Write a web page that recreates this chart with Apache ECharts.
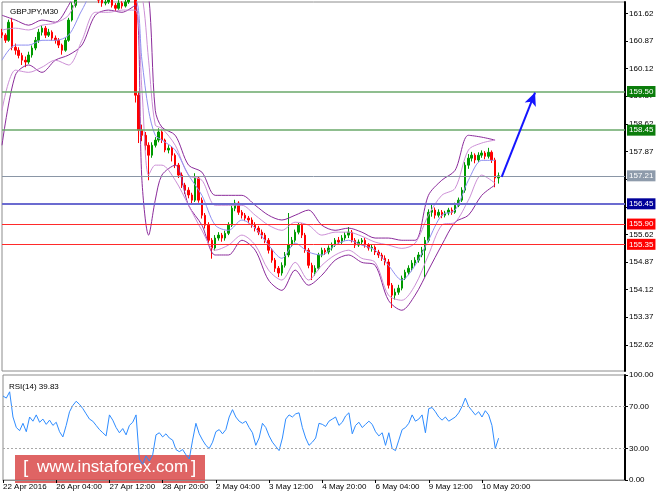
<!DOCTYPE html>
<html><head><meta charset="utf-8">
<script src="https://cdn.jsdelivr.net/npm/echarts@6/dist/echarts.min.js"></script>
<style>html,body{margin:0;padding:0;background:#fff}#c{width:664px;height:498px}</style>
</head><body><div id="c"></div>
<script>
// ---- data ----
const symbolTitle = 'GBPJPY,M30';
const rsiTitle = 'RSI(14) 39.83';
const nCats = 188;           // 2-hour slots across the visible window
const tickEvery = 16;
const timeLabels = ['22 Apr 2016','26 Apr 04:00','27 Apr 12:00','28 Apr 20:00','2 May 04:00','3 May 12:00','4 May 20:00','6 May 04:00','9 May 12:00','10 May 20:00'];
const priceTicks = [161.62,160.87,160.12,159.37,158.62,157.87,157.12,156.37,155.62,154.87,154.12,153.37,152.62];
const rsiTicks = [0,30,70,100];
const rsiLevels = [70,30];
// [open, close, low, high]
const ohlc = [
[161.10,161.03,160.95,161.20],[161.03,160.89,160.82,161.08],[160.89,161.38,160.85,161.45],[161.38,160.70,160.62,161.50],
[160.70,160.62,160.50,160.80],[160.62,160.48,160.40,160.70],[160.48,160.35,160.22,160.55],[160.35,160.30,160.16,160.45],
[160.30,160.49,160.25,160.58],[160.49,160.68,160.42,160.75],[160.68,160.89,160.62,160.98],[160.89,161.11,160.82,161.20],
[161.11,161.22,161.02,161.30],[161.22,161.03,160.95,161.28],[161.03,161.11,160.98,161.20],[161.11,160.95,160.88,161.16],
[160.95,160.89,160.80,161.02],[160.89,160.76,160.68,160.95],[160.76,160.62,160.50,160.80],[160.62,160.89,160.58,160.96],
[160.89,161.44,160.85,161.50],[161.44,161.84,161.40,161.92],[161.84,162.12,161.78,162.20],[162.12,162.30,162.05,162.38],
[162.30,162.45,162.22,162.55],[162.45,162.38,162.30,162.52],[162.38,162.25,162.18,162.42],[162.25,162.25,162.12,162.35],
[162.25,162.12,162.05,162.30],[162.12,161.98,161.90,162.18],[161.98,161.90,161.80,162.05],[161.90,161.93,161.84,162.02],
[161.93,162.04,161.88,162.10],[162.04,161.84,161.78,162.08],[161.84,161.76,161.68,161.90],[161.76,161.90,161.72,161.98],
[161.90,161.82,161.75,161.95],[161.82,161.93,161.78,162.00],[161.93,162.06,161.88,162.12],[162.06,162.10,161.98,162.18],
[162.10,159.40,159.20,162.15],[159.40,158.45,158.10,159.50],[158.45,158.31,158.15,158.60],[158.31,158.04,157.90,158.40],
[158.04,157.77,157.09,158.12],[157.77,158.04,157.70,158.12],[158.04,158.18,157.98,158.26],[158.18,158.40,158.12,158.50],
[158.40,158.18,158.10,158.45],[158.18,157.91,157.85,158.22],[157.91,157.96,157.82,158.04],[157.96,157.77,157.60,158.00],
[157.77,157.50,157.42,157.82],[157.50,157.23,157.15,157.56],[157.23,156.96,156.88,157.30],[156.96,156.82,156.72,157.02],
[156.82,156.69,156.60,156.90],[156.69,156.55,156.45,156.75],[156.55,157.15,156.50,157.28],[157.15,156.55,156.48,157.20],
[156.55,156.14,156.05,156.62],[156.14,155.87,155.78,156.20],[155.87,155.46,155.35,155.95],[155.46,155.25,154.96,155.52],
[155.25,155.52,155.18,155.60],[155.52,155.60,155.45,155.68],[155.60,155.52,155.42,155.66],[155.52,155.65,155.45,155.72],
[155.65,155.87,155.60,155.95],[155.87,156.33,155.82,156.40],[156.33,156.47,156.25,156.56],[156.47,156.22,156.15,156.52],
[156.22,156.14,156.05,156.28],[156.14,156.06,155.98,156.20],[156.06,156.01,155.92,156.12],[156.01,155.87,155.80,156.08],
[155.87,155.79,155.70,155.95],[155.79,155.68,155.60,155.85],[155.68,155.60,155.50,155.75],[155.60,155.46,155.38,155.66],
[155.46,155.19,155.10,155.52],[155.19,154.92,154.85,155.25],[154.92,154.70,154.60,154.98],[154.70,154.57,154.46,154.76],
[154.57,154.78,154.50,154.86],[154.78,155.06,154.72,155.14],[155.06,155.33,155.00,156.20],[155.33,155.46,155.28,155.55],
[155.46,155.68,155.40,155.75],[155.68,155.87,155.62,155.93],[155.87,155.60,155.52,155.92],[155.60,155.19,155.12,155.66],
[155.19,154.78,154.70,155.25],[154.78,154.59,154.38,154.85],[154.59,154.70,154.50,154.78],[154.70,155.06,154.65,155.12],
[155.06,155.19,155.00,155.26],[155.19,155.14,155.06,155.25],[155.14,155.25,155.08,155.32],[155.25,155.33,155.18,155.40],
[155.33,155.46,155.28,155.52],[155.46,155.41,155.34,155.55],[155.41,155.52,155.36,155.60],[155.52,155.60,155.45,155.68],
[155.60,155.68,155.52,155.82],[155.68,155.46,155.40,155.74],[155.46,155.33,155.25,155.52],[155.33,155.41,155.28,155.48],
[155.41,155.46,155.35,155.52],[155.46,155.33,155.26,155.52],[155.33,155.25,155.18,155.38],[155.25,155.27,155.15,155.35],
[155.27,155.14,155.06,155.32],[155.14,155.06,154.98,155.20],[155.06,154.97,154.90,155.12],[154.97,154.87,154.78,155.05],
[154.87,154.24,154.15,154.95],[154.24,153.97,153.62,154.30],[153.97,154.05,153.85,154.15],[154.05,154.16,153.98,154.25],
[154.16,154.43,154.10,154.50],[154.43,154.59,154.38,154.66],[154.59,154.70,154.52,154.78],[154.70,154.84,154.62,154.92],
[154.84,154.92,154.76,155.00],[154.92,155.06,154.85,155.14],[155.06,155.19,155.00,155.28],[155.19,155.46,154.46,155.55],
[155.46,156.22,155.40,156.30],[156.22,156.28,156.10,156.42],[156.28,156.14,156.05,156.35],[156.14,156.22,156.08,156.30],
[156.22,156.14,156.06,156.28],[156.14,156.20,156.08,156.26],[156.20,156.28,156.14,156.34],[156.28,156.22,156.15,156.35],
[156.22,156.41,156.18,156.48],[156.41,156.55,156.36,156.62],[156.55,156.82,156.50,156.90],[156.82,157.50,156.75,157.58],
[157.50,157.69,157.40,157.80],[157.69,157.77,157.60,157.86],[157.77,157.64,157.55,157.82],[157.64,157.77,157.58,157.85],
[157.77,157.83,157.70,157.90],[157.83,157.74,157.66,157.88],[157.74,157.85,157.68,157.97],[157.85,157.64,157.56,157.90],
[157.64,157.15,156.90,157.70],[157.15,157.21,157.00,157.30]
];
// indicator sample positions (slot index) and values
const bandX =      [0,4,8,12,16,20,24,28,32,36,40,42,44,46,48,52,56,60,64,68,72,76,80,84,88,92,96,100,104,108,112,116,120,124,128,132,136,140,144,148];
const outerUpper = [161.57,161.44,161.30,161.44,161.38,161.84,162.52,162.79,162.52,162.25,162.39,162.25,162.12,158.99,158.53,158.31,157.50,157.31,156.68,156.68,156.68,156.41,156.14,156.01,156.14,156.28,155.87,155.73,155.79,155.68,155.52,155.52,155.46,155.46,156.68,157.09,157.36,158.31,158.26,158.18];
const outerLower = [158.04,159.94,160.22,160.02,160.35,160.49,160.76,161.57,161.71,161.65,161.84,157.09,155.60,156.55,157.23,157.50,156.41,155.87,155.06,155.06,155.46,155.19,154.38,154.10,154.65,154.24,154.51,154.92,155.06,154.86,154.78,153.83,153.56,153.97,154.65,155.33,155.95,156.14,156.68,156.96];
const innerUpper = [161.17,161.22,161.17,161.30,161.36,161.57,162.25,162.52,162.39,162.12,162.25,162.12,160.35,158.59,158.50,158.04,157.23,157.09,156.41,156.41,156.41,156.14,155.87,155.73,155.95,155.87,155.60,155.68,155.68,155.57,155.41,155.33,155.24,155.38,156.14,156.68,156.87,157.91,158.10,158.18];
const innerLower = [158.99,160.08,160.02,160.16,160.35,160.22,160.89,161.65,161.65,161.71,161.71,159.54,157.23,157.50,157.50,157.09,156.41,155.73,155.19,155.33,155.60,155.33,154.65,154.38,154.86,154.38,154.78,155.06,155.19,154.97,154.86,153.97,153.83,154.24,155.06,155.87,155.95,156.55,157.23,157.01];
const middle =     [160.35,160.76,160.76,160.89,160.89,161.03,161.71,162.25,162.12,161.98,161.98,160.35,158.99,158.31,158.18,157.91,157.23,156.68,155.87,155.73,156.01,155.79,155.33,154.97,155.38,155.14,155.06,155.33,155.46,155.33,155.19,154.78,154.38,154.78,155.46,156.14,156.28,157.09,157.63,157.63];
const rsi = [80,78,84,60,50,47,54,46,60,56, 62,55,58,53,57,52,55,46,41,52, 65,71,75,72,68,63,58,56,52,48,
 45,42,62,57,50,45,49,43,52,55, 62,20,15,23,18,24,43,45,41,44, 40,38,29,27,29,24,20,38,54,44,
 38,33,30,36,46,48,44,48,60,67, 60,56,54,56,50,45,33,40,54,50, 42,36,32,28,40,58,62,60,63,64,
 50,40,33,36,40,54,53,51,56,58, 60,52,55,61,64,44,52,55,50,53, 56,53,46,42,45,33,45,30,28,38,
 48,50,54,62,56,58,62,45,68,69, 65,60,57,60,56,58,60,64,70,78, 70,66,62,65,60,66,62,52,30,39.83];
const levelValues = [159.50,158.45,157.21,156.45,155.90,155.35];
const levelColors = ['#6aa86a','#6aa86a','#8a96a6','#6b6bd0','#ff2a2a','#ff2a2a'];
const levelBoxColors = ['#0b7d0b','#0b7d0b','#8e9bab','#00009a','#ff0000','#ff0000'];
const levelWidths = [1.5,1.5,1,2,1,1];
const arrowFrom = [150,157.18];
const arrowTo = [160,159.47];
const watermark = 'www.instaforex.com';

// ---- chart ----
const cats = Array.from({length:nCats},(_,i)=>String(i));
const pair = arr => bandX.map((x,i)=>[x,arr[i]]);
const isTick = i => i % tickEvery === 0 && (i / tickEvery) < timeLabels.length;
const FONT = 'Liberation Sans';

const levelLines = levelValues.map((v,i)=>({
  yAxis: v,
  lineStyle:{color:levelColors[i], width:levelWidths[i], type:'solid'},
  label:{show:true, position:'end', distance:2, formatter: p=>Number(p.value).toFixed(2),
         color:'#fff', backgroundColor:levelBoxColors[i], fontSize:8, fontFamily:FONT, padding:[2,2,1,2]}
}));

const bandLine = (arr,color,name)=>({
  name, type:'line', xAxisIndex:0, yAxisIndex:0, data:pair(arr), symbol:'none',
  lineStyle:{color, width:1}, smooth:0.3, z:4, silent:true
});

const chart = echarts.init(document.getElementById('c'), null, {renderer:'canvas'});
chart.setOption({
  animation:false,
  backgroundColor:'#fff',
  textStyle:{fontFamily:FONT},
  title:[
    {text:symbolTitle, left:5, top:3, textStyle:{fontSize:8, fontWeight:'normal', color:'#000', fontFamily:FONT}},
    {text:rsiTitle, left:4, top:378, textStyle:{fontSize:8, fontWeight:'normal', color:'#000', fontFamily:FONT}}
  ],
  grid:[
    {left:2, top:2, right:39, height:369, show:true, borderColor:'#8c8c8c', borderWidth:1},
    {left:2, top:375, right:39, height:105, show:true, borderColor:'#8c8c8c', borderWidth:1}
  ],
  xAxis:[
    {type:'category', gridIndex:0, data:cats, boundaryGap:false, axisLine:{show:false}, axisTick:{show:false}, axisLabel:{show:false}, splitLine:{show:false}},
    {type:'category', gridIndex:1, data:cats, boundaryGap:false,
     axisLine:{show:true, lineStyle:{color:'#8c8c8c'}},
     axisTick:{show:true, interval:(i)=>isTick(i), length:3, lineStyle:{color:'#000'}},
     axisLabel:{show:true, interval:(i)=>isTick(i), formatter:(v,i)=>timeLabels[i/tickEvery]||'', align:'left', fontSize:8, color:'#000', margin:3, fontFamily:FONT},
     splitLine:{show:false}}
  ],
  yAxis:[
    {type:'value', gridIndex:0, position:'right', min:151.91, max:161.93, scale:true,
     axisLine:{show:true, lineStyle:{color:'#000', width:2}},
     axisTick:{show:true, customValues:priceTicks, length:3, lineStyle:{color:'#000'}},
     axisLabel:{show:true, customValues:priceTicks, formatter:v=>Number(v).toFixed(2), fontSize:8, color:'#000', margin:4, fontFamily:FONT, showMinLabel:true, showMaxLabel:true},
     splitLine:{show:false}},
    {type:'value', gridIndex:1, position:'right', min:0, max:100,
     axisLine:{show:true, lineStyle:{color:'#000', width:2}},
     axisTick:{show:true, customValues:rsiTicks, length:3, lineStyle:{color:'#000'}},
     axisLabel:{show:true, customValues:rsiTicks, formatter:v=>Number(v).toFixed(2), fontSize:8, color:'#000', margin:4, fontFamily:FONT, showMinLabel:true, showMaxLabel:true},
     splitLine:{show:false}}
  ],
  series:[
    {name:'GBPJPY', type:'candlestick', xAxisIndex:0, yAxisIndex:0, data:ohlc, barWidth:2, z:3,
     itemStyle:{color:'#009a00', color0:'#ff0000', borderColor:'#009a00', borderColor0:'#ff0000', borderWidth:1},
     markLine:{silent:true, symbol:'none', animation:false, z:5, data:[
       ...levelLines,
       [{coord:arrowFrom, symbol:'none', lineStyle:{color:'#1414ff', width:2, type:'solid'}, label:{show:false}},
        {coord:arrowTo, symbol:'arrow', symbolSize:[9,13]}]
     ]}},
    bandLine(outerUpper,'#8b2b9b','u1'),
    bandLine(outerLower,'#8b2b9b','l1'),
    bandLine(innerUpper,'#cc8fd6','u2'),
    bandLine(innerLower,'#cc8fd6','l2'),
    bandLine(middle,'#8f8ff0','m'),
    {name:'RSI', type:'line', xAxisIndex:1, yAxisIndex:1, data:rsi, symbol:'none',
     lineStyle:{color:'#2e8cff', width:1}, z:4,
     markLine:{silent:true, symbol:'none', label:{show:false},
       lineStyle:{color:'#a8a8a8', type:[2,2], width:1},
       data: rsiLevels.map(v=>({yAxis:v}))}}
  ],
  graphic:[
    {type:'group', left:15, top:455, z:100, children:[
      {type:'rect', shape:{x:0,y:0,width:190,height:28}, style:{fill:'rgba(216,66,66,0.82)'}},
      {type:'text', x:8, y:3, style:{text:'[', fill:'#fff', font:'300 19px "Liberation Sans"'}},
      {type:'text', x:22, y:4, style:{text:watermark, fill:'#fff', font:'17px "Liberation Sans"'}},
      {type:'text', x:176, y:3, style:{text:']', fill:'#fff', font:'300 19px "Liberation Sans"'}}
    ]}
  ]
});
</script></body></html>
